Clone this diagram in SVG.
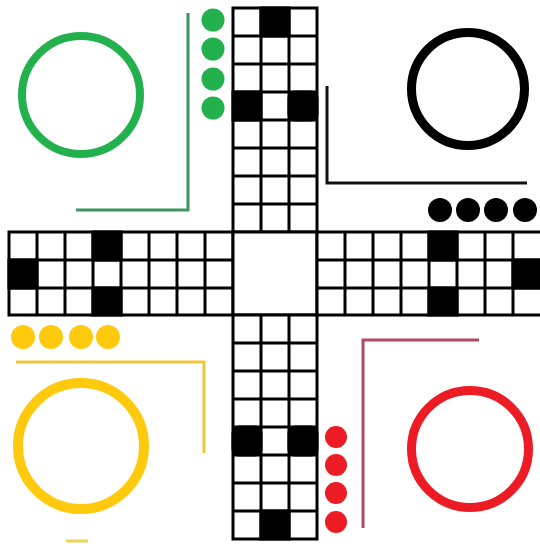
<svg xmlns="http://www.w3.org/2000/svg" width="540" height="547" viewBox="0 0 540 547">
<style>
.cell{fill:#fff;stroke:#000;stroke-width:3}
.blk{fill:#000;stroke:#000;stroke-width:3}
.ring{fill:none}
.lg{fill:none;stroke-width:3}
</style>
<rect width="540" height="547" fill="#fff"/>
<g id="board">
  <g id="top-arm">
    <rect class="cell" x="233" y="8" width="84" height="224"/>
    <path d="M261 8V232M289 8V232M233 36H317M233 64H317M233 92H317M233 120H317M233 148H317M233 176H317M233 204H317" stroke="#000" stroke-width="3"/>
    <rect class="blk" x="261" y="8" width="28" height="28"/>
    <rect class="blk" x="233" y="92" width="28" height="28"/>
    <rect class="blk" x="289" y="92" width="28" height="28" rx="6"/>
  </g>
  <g id="left-arm">
    <rect class="cell" x="9" y="232" width="224" height="83"/>
    <path d="M37 232V315M65 232V315M93 232V315M121 232V315M149 232V315M177 232V315M205 232V315M9 260H233M9 288H233" stroke="#000" stroke-width="3"/>
    <rect class="blk" x="93" y="232" width="28" height="28"/>
    <rect class="blk" x="9" y="260" width="28" height="28"/>
    <rect class="blk" x="93" y="288" width="28" height="27"/>
  </g>
  <g id="center">
    <rect class="cell" x="233" y="232" width="84" height="83"/>
  </g>
  <g id="right-arm">
    <rect class="cell" x="317" y="232" width="225" height="83"/>
    <path d="M345 232V315M373 232V315M401 232V315M429 232V315M457 232V315M485 232V315M513 232V315M317 260H542M317 288H542" stroke="#000" stroke-width="3"/>
    <rect class="blk" x="429" y="232" width="28" height="28"/>
    <rect class="blk" x="513" y="260" width="29" height="28"/>
    <rect class="blk" x="429" y="288" width="28" height="27"/>
  </g>
  <g id="bottom-arm">
    <rect class="cell" x="233" y="315" width="84" height="224"/>
    <path d="M261 315V539M289 315V539M233 343H317M233 371H317M233 399H317M233 427H317M233 455H317M233 483H317M233 511H317" stroke="#000" stroke-width="3"/>
    <rect class="blk" x="233" y="427" width="28" height="28" rx="6"/>
    <rect class="blk" x="289" y="427" width="28" height="28" rx="6"/>
    <rect class="blk" x="261" y="511" width="28" height="28"/>
  </g>
</g>
<g id="green">
  <circle class="ring" cx="81" cy="95" r="59" stroke="#22b14c" stroke-width="8"/>
  <path class="lg" d="M188 13V210H76" stroke="#3d9660"/>
  <g fill="#22b14c">
    <circle cx="213" cy="20" r="11.5"/>
    <circle cx="213" cy="49" r="11.5"/>
    <circle cx="213" cy="79" r="11.5"/>
    <circle cx="213" cy="108" r="11.5"/>
  </g>
</g>
<g id="black">
  <circle class="ring" cx="468" cy="89" r="56.5" stroke="#000" stroke-width="9"/>
  <path class="lg" d="M327 86V183H527" stroke="#111"/>
  <g fill="#000">
    <circle cx="440" cy="210" r="12"/>
    <circle cx="468" cy="210" r="12"/>
    <circle cx="496" cy="210" r="12"/>
    <circle cx="525" cy="210" r="12"/>
  </g>
</g>
<g id="yellow">
  <circle class="ring" cx="81" cy="446" r="63" stroke="#ffc90e" stroke-width="10"/>
  <path class="lg" d="M16 362H204V453" stroke="#ecca3c" stroke-width="3.5"/>
  <g fill="#ffc90e">
    <circle cx="23" cy="337" r="12"/>
    <circle cx="51" cy="337" r="12"/>
    <circle cx="81" cy="337" r="12"/>
    <circle cx="108" cy="337" r="12"/>
  </g>
  <path d="M66 541H88" stroke="#efd35a" stroke-width="3"/>
</g>
<g id="red">
  <circle class="ring" cx="470" cy="449" r="58.5" stroke="#ed1c24" stroke-width="9"/>
  <path class="lg" d="M479 340H363V528" stroke="#b04a5c"/>
  <g fill="#ed1c24">
    <circle cx="336" cy="437" r="11"/>
    <circle cx="336" cy="465" r="11"/>
    <circle cx="336" cy="493" r="11"/>
    <circle cx="336" cy="522" r="11"/>
  </g>
</g>
</svg>
